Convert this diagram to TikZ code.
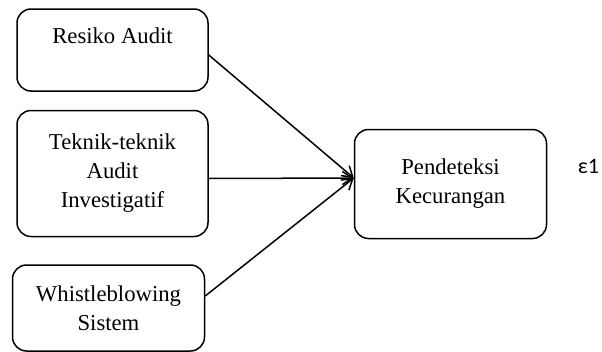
\documentclass[tikz,border=0pt]{standalone}
\usepackage{fontspec}
\setmainfont{Liberation Serif}
\newfontfamily\epsfont{Carlito}
\usetikzlibrary{arrows.meta,positioning}

\begin{document}
\begin{tikzpicture}[x=1pt,y=-1pt,every node/.style={font=\fontsize{22.7}{29}\selectfont}]
      \tikzstyle{var}=[draw=black,line width=1.5pt,rounded corners=14pt,
                       minimum width=191pt,align=center,inner sep=0pt]
      \tikzstyle{pana}=[draw=black,line width=1.5pt,-{Straight Barb[length=10pt,width=13pt]}]
      \useasboundingbox (0,0) rectangle (602,351);

      \node[var,minimum height=82pt] (resiko) at (112.5,50) {Resiko Audit\\\mbox{}};
      \node[var,minimum height=126pt,below=18pt of resiko] (teknik) {Teknik-teknik\\Audit\\Investigatif};
      \node[var,minimum height=86pt,minimum width=192pt,below=27pt of teknik,xshift=-4pt] (whistle) {Whistleblowing\\Sistem};
      \node[var,minimum height=109pt,minimum width=192pt,right=145pt of teknik,yshift=-10.5pt] (deteksi) {Pendeteksi\\Kecurangan};
      \node[font=\epsfont\fontsize{22}{24}\selectfont] (eps) at (588.5,166) {ε1};

      \coordinate (masuk) at ([yshift=6pt]deteksi.west);
      \draw[pana] ([yshift=-5pt]resiko.east) -- (masuk);
      \draw[pana] ([yshift=-5pt]teknik.east) -- (masuk);
      \draw[pana] ([yshift=12pt]whistle.east) -- (masuk);
    \end{tikzpicture}
\end{document}
